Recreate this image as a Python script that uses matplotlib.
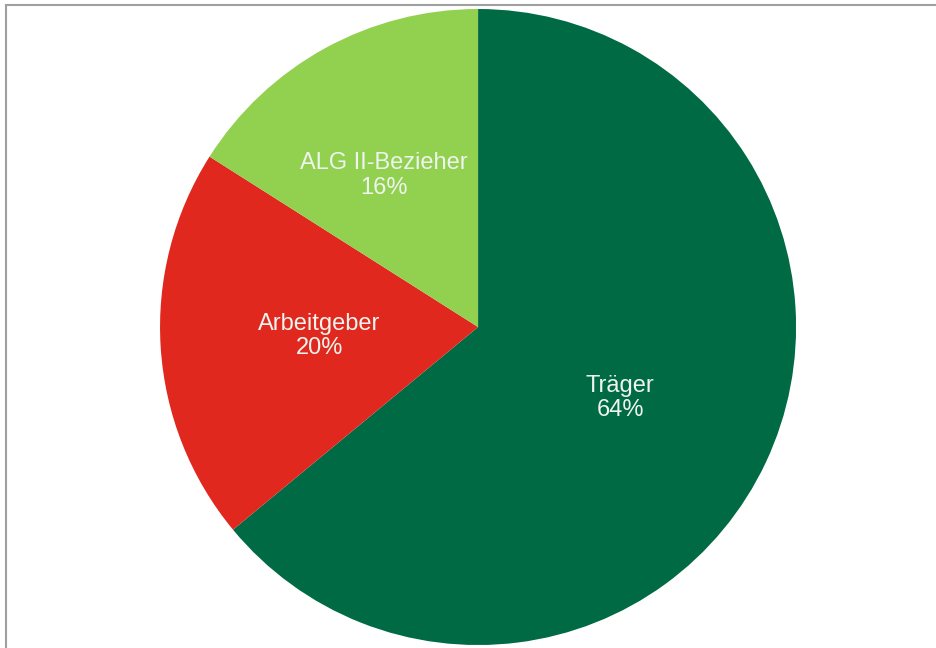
import numpy as np
import matplotlib
matplotlib.use("Agg")
import matplotlib.pyplot as plt
from matplotlib.lines import Line2D

labels = ["Träger", "Arbeitgeber", "ALG II-Bezieher"]
shares = [64, 20, 16]
colors = ["#006a45", "#e0281f", "#92d050"]

# label placement: radius (fraction of pie radius) and angle nudge in degrees
label_radius = [0.50, 0.50, 0.56]
label_nudge = [-1.4, -0.4, 3.0]

plt.rcParams["font.family"] = ["Liberation Sans", "DejaVu Sans"]

fig = plt.figure(figsize=(9.37, 6.48), dpi=100)
ax = fig.add_axes([0.1708, 0.0046, 0.6788, 0.9815])
wedges, _ = ax.pie(shares, colors=colors, startangle=90, counterclock=False,
                   radius=1.0, wedgeprops=dict(linewidth=0))
ax.set_xlim(-1, 1)
ax.set_ylim(-1, 1)
ax.set_aspect("auto")
ax.axis("off")

for w, lab, val, r, nd in zip(wedges, labels, shares, label_radius, label_nudge):
    ang = np.deg2rad((w.theta1 + w.theta2) / 2 + nd)
    ax.text(r * np.cos(ang), r * np.sin(ang), f"{lab}\n{val}%", ha="center", va="center",
            fontsize=17, color="#eef4ee", linespacing=1.15)

# thin grey frame on the left and top edges
fig.add_artist(Line2D([6 / 937, 6 / 937], [0, 1 - 5 / 648], transform=fig.transFigure, color="#a0a0a0", lw=1.5))
fig.add_artist(Line2D([6 / 937, 1], [1 - 5 / 648, 1 - 5 / 648], transform=fig.transFigure, color="#a0a0a0", lw=1.5))

fig.savefig("out.png", dpi=100)
